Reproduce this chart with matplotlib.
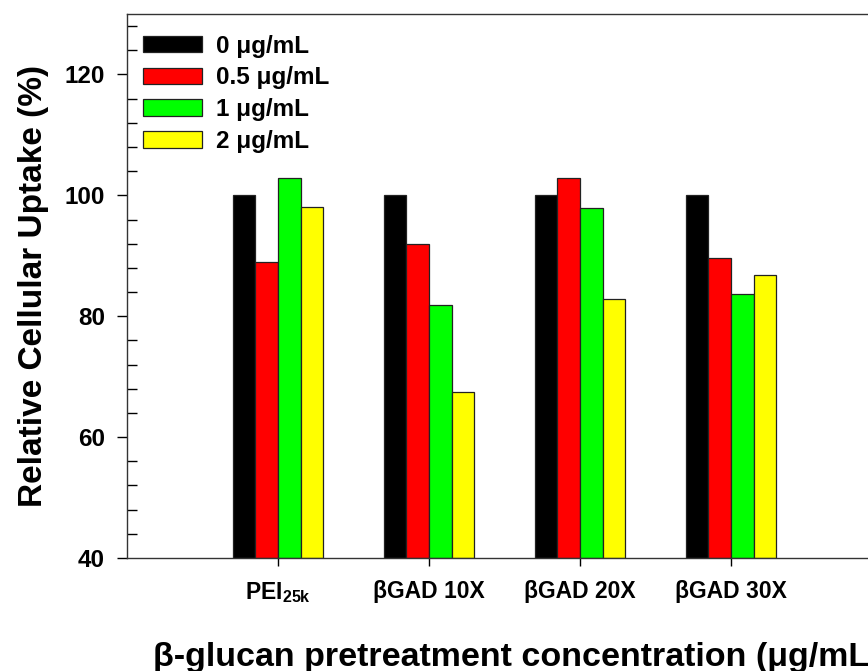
import matplotlib
matplotlib.use("Agg")
import matplotlib.pyplot as plt
import numpy as np
from matplotlib.ticker import MultipleLocator

plt.rcParams['font.family'] = ['Liberation Sans', 'DejaVu Sans']
plt.rcParams['font.weight'] = 'bold'
plt.rcParams['mathtext.fontset'] = 'custom'
plt.rcParams['mathtext.rm'] = 'Liberation Sans:bold'
plt.rcParams['mathtext.bf'] = 'Liberation Sans:bold'

groups = ["PEI$_{\\mathbf{25k}}$", "βGAD 10X", "βGAD 20X", "βGAD 30X"]
doses = ["0 μg/mL", "0.5 μg/mL", "1 μg/mL", "2 μg/mL"]
colors = ["#000000", "#ff0000", "#00ff00", "#ffff00"]

uptake_0 = [100, 100, 100, 100]
uptake_05 = [89.0, 92.0, 102.8, 89.7]
uptake_1 = [102.8, 81.8, 97.9, 83.6]
uptake_2 = [98.0, 67.4, 82.9, 86.8]
series = [uptake_0, uptake_05, uptake_1, uptake_2]

fig = plt.figure(figsize=(8.68, 6.71), dpi=100)
ax = fig.add_axes([0.1463, 0.1684, 0.87, 0.8107])

x = np.arange(1, len(groups) + 1)
w = 0.15
bottom = 40
for i, (vals, c) in enumerate(zip(series, colors)):
    pos = x + (i - 1.5) * w
    h = np.array(vals) - bottom
    ax.bar(pos, h, width=w, bottom=bottom, color=c,
           edgecolor="#222222", linewidth=0.9, label=doses[i])

ax.set_xlim(0, 5)
ax.set_ylim(40, 130)
ax.set_xticks(x)
ax.set_xticklabels(groups, fontsize=16.5, fontweight='bold')
ax.yaxis.set_major_locator(MultipleLocator(20))
ax.yaxis.set_minor_locator(MultipleLocator(4))
ax.set_yticks([40, 60, 80, 100, 120])
ax.tick_params(axis='y', which='major', direction='out', length=7, width=1,
               labelsize=17.5, pad=9)
ax.tick_params(axis='y', which='minor', direction='in', length=7, width=1)
ax.tick_params(axis='x', which='major', direction='out', length=6, width=1,
               labelsize=16.5, pad=10)
for lab in ax.get_yticklabels():
    lab.set_fontweight('bold')
for sp in ax.spines.values():
    sp.set_linewidth(1.0)
    sp.set_color("#333333")

ax.set_ylabel("Relative Cellular Uptake (%)", fontsize=24, fontweight='bold')
ax.yaxis.set_label_coords(-0.103, 0.5)
ax.set_xlabel("β-glucan pretreatment concentration (μg/mL)", fontsize=24.5,
              fontweight='bold', labelpad=26.5)
ax.xaxis.label.set_x(0.5166)

ax.legend(loc='upper left', bbox_to_anchor=(0.021, 0.962), frameon=False,
          handlelength=2.45, handleheight=0.66, labelspacing=0.36,
          handletextpad=0.58, borderpad=0, borderaxespad=0,
          prop={'weight': 'bold', 'size': 17.5})

fig.savefig("out.png", dpi=100)
